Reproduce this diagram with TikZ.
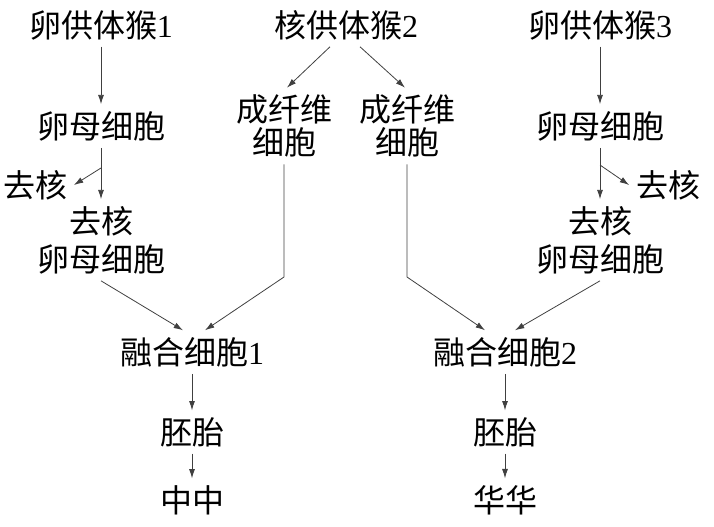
\documentclass[tikz,border=0pt]{standalone}
\usepackage{fontspec}
\setmainfont{Liberation Serif}
\newfontfamily\cjk{Noto Sans CJK SC}
\usetikzlibrary{arrows.meta,positioning,calc}

\begin{document}
\begin{tikzpicture}[x=0.75pt, y=-0.75pt, >={Latex[length=7pt,width=4.5pt]}, every node/.style={font=\cjk\fontsize{24}{28}\selectfont, inner sep=5pt, align=center}, flow/.style={->, draw=black!75, line width=0.6pt}]
    \useasboundingbox (0,0) rectangle (714,526);

    \node (donor1) at (101,25) {卵供体猴\textrm{1}};
    \node (donor2) at (346,25) {核供体猴\textrm{2}};
    \node (donor3) at (600,25) {卵供体猴\textrm{3}};
    \node (oocyte1) at (101,126) {卵母细胞};
    \node (oocyte3) at (600,126) {卵母细胞};
    \node (cut1) at (35,185) {去核};
    \node (cut3) at (668,185) {去核};
    \node [font=\cjk\fontsize{24}{28.5}\selectfont] (enuc1) at (101,240) {去核\\卵母细胞};
    \node [font=\cjk\fontsize{24}{28.5}\selectfont] (enuc3) at (600,240) {去核\\卵母细胞};
    \node [font=\cjk\fontsize{24}{25}\selectfont] (fib1) at (284,126) {成纤维\\细胞};
    \node [font=\cjk\fontsize{24}{25}\selectfont] (fib2) at (407,126) {成纤维\\细胞};
    \node (fuse1) at (192,352) {融合细胞\textrm{1}};
    \node (fuse2) at (505,352) {融合细胞\textrm{2}};
    \node (embryo1) at (192,432) {胚胎};
    \node (embryo2) at (505,432) {胚胎};
    \node (zz) at (192,500) {中中};
    \node (hh) at (505,500) {华华};

    \coordinate (b1) at (101,168);
    \coordinate (b3) at (600,165);
    \coordinate (k1) at (284,277);
    \coordinate (k2) at (407,277);

    \draw [flow] (donor1) -- (oocyte1);
    \draw [flow] (oocyte1) -- (enuc1);
    \draw [flow] (b1) -- (cut1.east);
    \draw [flow] (donor3) -- (oocyte3);
    \draw [flow] (oocyte3) -- (enuc3);
    \draw [flow] (b3) -- (cut3.west);
    \draw [flow] ($(donor2.south)+(-16,0)$) -- ($(fib1.north)+(3,0)$);
    \draw [flow] ($(donor2.south)+(14,0)$) -- ($(fib2.north)+(-2,0)$);
    \draw [flow] (enuc1.south) -- ($(fuse1.north)+(-9,0)$);
    \draw [flow] (fib1.south) -- (k1) -- ($(fuse1.north)+(13,0)$);
    \draw [flow] (fib2.south) -- (k2) -- ($(fuse2.north)+(-20,0)$);
    \draw [flow] (enuc3.south) -- ($(fuse2.north)+(10,0)$);
    \draw [flow] (fuse1) -- (embryo1);
    \draw [flow] (embryo1) -- (zz);
    \draw [flow] (fuse2) -- (embryo2);
    \draw [flow] (embryo2) -- (hh);
\end{tikzpicture}
\end{document}
